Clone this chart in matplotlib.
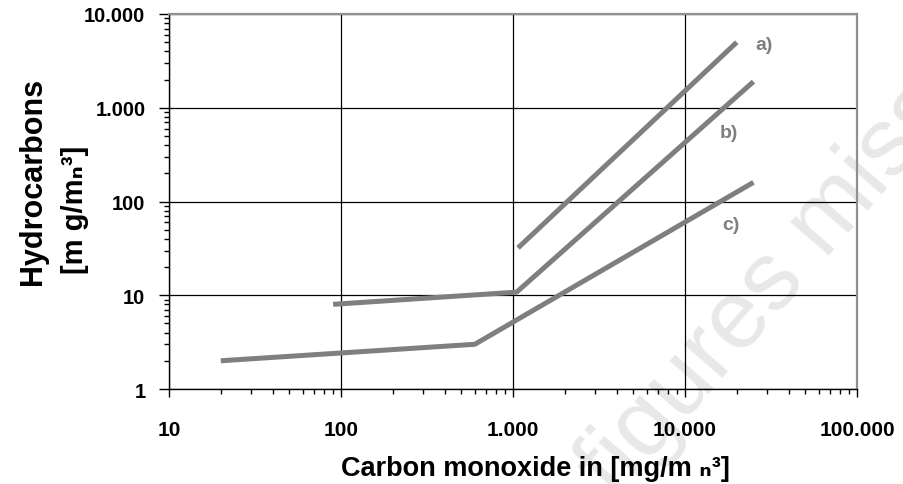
import matplotlib
matplotlib.use('Agg')
import matplotlib.pyplot as plt
from matplotlib.ticker import LogLocator, FuncFormatter, NullFormatter

# Daten
line_a_x = [1070, 20000]
line_a_y = [32, 5000]
line_b_x = [90, 1050, 25000]
line_b_y = [8, 10.8, 1900]
line_c_x = [20, 600, 25000]
line_c_y = [2, 3, 160]
curve_labels = ['a)', 'b)', 'c)']
label_pos_x = [29000, 18000, 18500]
label_pos_y = [4700, 540, 57]

plt.rcParams['font.family'] = ['Liberation Sans', 'DejaVu Sans']
plt.rcParams['font.weight'] = 'bold'

fig = plt.figure(figsize=(9.04, 4.85), dpi=100)
ax = fig.add_axes([169 / 904, 1 - 390 / 485, 688 / 904, 375 / 485])
ax.set_facecolor('none')

# Wasserzeichen
fig.text(0.896, 0.505, 'figures missing', rotation=49, color='#e8e8e8',
         fontsize=70, weight='normal',
         ha='center', va='center', rotation_mode='anchor', zorder=-1)

gray = '#7f7f7f'
ax.plot(line_a_x, line_a_y, color=gray, lw=3.6, solid_capstyle='butt')
ax.plot(line_b_x, line_b_y, color=gray, lw=3.6, solid_capstyle='butt')
ax.plot(line_c_x, line_c_y, color=gray, lw=3.6, solid_capstyle='butt')
for t, x, y in zip(curve_labels, label_pos_x, label_pos_y):
    ax.text(x, y, t, color=gray, fontsize=14, fontweight='bold',
            ha='center', va='center')

ax.set_xscale('log')
ax.set_yscale('log')
ax.set_xlim(10, 100000)
ax.set_ylim(1, 10000)

fmt = FuncFormatter(lambda v, p: f'{int(round(v)):,}'.replace(',', '.'))
ax.xaxis.set_major_locator(LogLocator(base=10, numticks=10))
ax.yaxis.set_major_locator(LogLocator(base=10, numticks=10))
ax.xaxis.set_minor_locator(LogLocator(base=10, subs=range(2, 10), numticks=20))
ax.yaxis.set_minor_locator(LogLocator(base=10, subs=range(2, 10), numticks=20))
ax.xaxis.set_major_formatter(fmt)
ax.yaxis.set_major_formatter(fmt)
ax.xaxis.set_minor_formatter(NullFormatter())
ax.yaxis.set_minor_formatter(NullFormatter())

ax.grid(True, which='major', color='black', lw=0.9)
ax.tick_params(axis='x', which='major', length=6, width=1, pad=16,
               labelsize=15)
ax.tick_params(axis='y', which='major', length=7, width=1, pad=10,
               labelsize=14.5)
ax.tick_params(which='minor', length=3.6, width=1)

for s in ['left', 'bottom']:
    ax.spines[s].set_color('black')
    ax.spines[s].set_linewidth(1)
for s in ['top', 'right']:
    ax.spines[s].set_color('#909090')
    ax.spines[s].set_linewidth(1.6)

ax.set_xlabel('Carbon monoxide in [mg/m \u2099\u00b3]',
              fontsize=19.5, fontweight='bold')
ax.xaxis.set_label_coords(0.533, -0.21)
ax.xaxis.label.set_va('center')

ax.text(-0.198, 0.555, 'Hydrocarbons', rotation=90, transform=ax.transAxes,
        fontsize=22, fontweight='bold', ha='center', va='center')
ax.text(-0.137, 0.48, '[m g/m\u2099\u00b3]', rotation=90,
        transform=ax.transAxes, fontsize=21, fontweight='bold',
        ha='center', va='center')

fig.savefig('out.png', dpi=100)
